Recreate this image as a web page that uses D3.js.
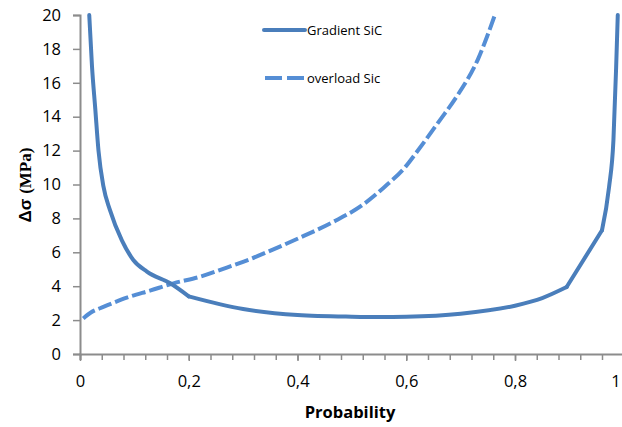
<!DOCTYPE html>
<html>
<head>
<meta charset="utf-8">
<script src="https://cdn.jsdelivr.net/npm/d3@7"></script>
<style>
  html, body { margin: 0; padding: 0; background: #fff; }
  svg { display: block; }
</style>
</head>
<body>
<svg id="chart" width="622" height="427"></svg>
<script>
// Gradient SiC: stress increment vs. failure probability
const gradientP = [0.017, 0.022, 0.028, 0.034, 0.043, 0.055, 0.077, 0.098, 0.123, 0.166, 0.2,
                   0.3, 0.4, 0.5, 0.55, 0.6, 0.7, 0.8, 0.85, 0.895, 0.96, 0.973, 0.981, 0.986, 0.989];
const gradientV = [20, 17, 14.5, 12, 9.9, 8.5, 6.7, 5.55, 4.86, 4.17, 3.4,
                   2.65, 2.3, 2.2, 2.18, 2.2, 2.38, 2.85, 3.3, 3.95, 7.3, 9.85, 12.6, 16.9, 20];
// the curve has corners at these probabilities
const gradientKinks = [0.2, 0.895, 0.96];

// overload Sic
const overloadP = [0.006, 0.02, 0.037, 0.06, 0.086, 0.13, 0.172, 0.221, 0.27, 0.313, 0.343, 0.4,
                   0.466, 0.52, 0.558, 0.6, 0.619, 0.662, 0.693, 0.732, 0.763];
const overloadV = [2.1, 2.45, 2.7, 3.0, 3.32, 3.75, 4.17, 4.56, 5.1, 5.6, 6.0, 6.8,
                   7.8, 8.8, 9.8, 11.1, 11.9, 13.8, 15.2, 17.4, 20];

const xTickValues = [0, 0.2, 0.4, 0.6, 0.8, 1];
const xTickLabels = ["0", "0,2", "0,4", "0,6", "0,8", "1"];
const yTickValues = [0, 2, 4, 6, 8, 10, 12, 14, 16, 18, 20];

const seriesNames = ["Gradient SiC", "overload Sic"];

const svg = d3.select("#chart");
const plotLeft = 80, plotRight = 623.75, plotTop = 15, plotBottom = 354;

const x = d3.scaleLinear().domain([0, 1]).range([plotLeft, plotRight]);
const y = d3.scaleLinear().domain([0, 20]).range([plotBottom, plotTop]);

const axisColor = "#8c8c8c";
const tickFont = "'Open Sans', sans-serif";

// clip path for the plotting area
svg.append("defs").append("clipPath").attr("id", "plotClip")
  .append("rect").attr("x", plotLeft).attr("y", plotTop - 2)
  .attr("width", plotRight - plotLeft + 10).attr("height", plotBottom - plotTop + 4);

// y axis
const yAxis = svg.append("g").attr("transform", `translate(${plotLeft},0)`)
  .call(d3.axisLeft(y).tickValues(yTickValues).tickSize(7).tickPadding(12).tickFormat(d3.format("d")));
yAxis.select(".domain").attr("stroke", axisColor).attr("stroke-width", 2);
yAxis.selectAll(".tick line").attr("stroke", axisColor).attr("stroke-width", 1.5);
yAxis.selectAll(".tick text").attr("font-family", tickFont).attr("font-size", 16.5).attr("fill", "#000");

// x axis: minor ticks every 0.04, labels every 0.2
const minorTicks = d3.range(0, 26).map(i => i * 0.04);
const xMinor = svg.append("g").attr("transform", `translate(0,${plotBottom})`)
  .call(d3.axisBottom(x).tickValues(minorTicks).tickSize(6).tickFormat(""));
xMinor.select(".domain").attr("stroke", axisColor).attr("stroke-width", 2);
xMinor.selectAll(".tick line").attr("stroke", axisColor).attr("stroke-width", 1.5);

const xAxis = svg.append("g").attr("transform", `translate(0,${plotBottom})`)
  .call(d3.axisBottom(x).tickValues(xTickValues).tickSize(7).tickPadding(14)
    .tickFormat((d, i) => xTickLabels[i]));
xAxis.select(".domain").remove();
xAxis.selectAll(".tick line").attr("stroke", axisColor).attr("stroke-width", 1.5);
xAxis.selectAll(".tick text").attr("font-family", tickFont).attr("font-size", 16.5).attr("fill", "#000");
// the last label sits at the right edge of the page
xAxis.selectAll(".tick text").filter(d => d === 1).attr("text-anchor", "end").attr("dx", -3.5);

// axis titles
svg.append("text")
  .attr("x", 350).attr("y", 418)
  .attr("text-anchor", "middle")
  .attr("font-family", tickFont).attr("font-weight", "bold").attr("font-size", 16.5)
  .text("Probability");

const yTitle = svg.append("text")
  .attr("transform", "translate(31,185) rotate(-90)")
  .attr("text-anchor", "middle")
  .attr("font-weight", "bold").attr("font-size", 17).attr("fill", "#000");
yTitle.append("tspan").attr("font-family", "'Liberation Sans', Arial, sans-serif").text("Δσ ");
yTitle.append("tspan").attr("font-family", "'Liberation Serif', 'Times New Roman', serif").text("(MPa)");

// series
const line = d3.line().x(d => x(d[0])).y(d => y(d[1])).curve(d3.curveMonotoneX);
const gradientData = gradientP.map((p, i) => [p, gradientV[i]]);
const overloadData = overloadP.map((p, i) => [p, overloadV[i]]);
const bounds = [-Infinity, ...gradientKinks, Infinity];
const gradientSegments = d3.pairs(bounds).map(([a, b]) =>
  gradientData.filter(d => d[0] >= a && d[0] <= b));

const plot = svg.append("g").attr("clip-path", "url(#plotClip)");

plot.append("path").datum(overloadData)
  .attr("d", line)
  .attr("fill", "none").attr("stroke", "#558ed5").attr("stroke-width", 4)
  .attr("stroke-dasharray", "14,4");

plot.selectAll("path.gradient").data(gradientSegments).join("path")
  .attr("class", "gradient")
  .attr("d", line)
  .attr("fill", "none").attr("stroke", "#4a7ebb").attr("stroke-width", 4)
  .attr("stroke-linecap", "round").attr("stroke-linejoin", "round");

// legend
const legend = svg.append("g").attr("font-family", tickFont).attr("font-size", 13).attr("fill", "#000");
legend.append("line").attr("x1", 264).attr("x2", 305).attr("y1", 30).attr("y2", 30)
  .attr("stroke", "#4a7ebb").attr("stroke-width", 4).attr("stroke-linecap", "round");
legend.append("text").attr("x", 307).attr("y", 35).text(seriesNames[0]);
legend.append("line").attr("x1", 265).attr("x2", 304).attr("y1", 78).attr("y2", 78)
  .attr("stroke", "#558ed5").attr("stroke-width", 4).attr("stroke-dasharray", "17,5");
legend.append("text").attr("x", 307).attr("y", 83).text(seriesNames[1]);
</script>
</body>
</html>
